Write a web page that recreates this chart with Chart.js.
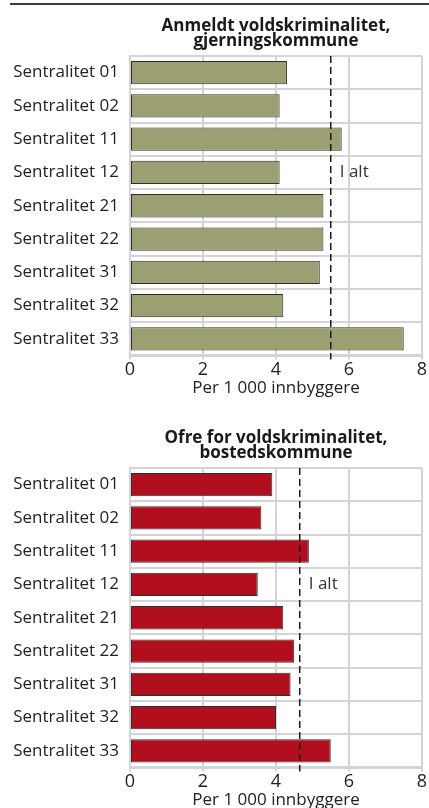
<!DOCTYPE html>
<html>
<head>
<meta charset="utf-8">
<script src="https://cdn.jsdelivr.net/npm/chart.js@4"></script>
<style>
    html, body {
        margin: 0;
        padding: 0;
        background: #ffffff;
        width: 429px;
        height: 808px;
        overflow: hidden;
        position: relative;
    }

    .top_rule {
        position: absolute;
        left: 10px;
        right: 0;
        top: 3px;
        height: 2px;
        background: #3c3c3c;
    }

    .chart_box {
        position: absolute;
        left: 0;
        width: 429px;
        height: 411px;
    }
</style>
</head>
<body>
<div class="top_rule"></div>
<div class="chart_box" style="top: 0;"><canvas id="chart_reported"></canvas></div>
<div class="chart_box" style="top: 412px;"><canvas id="chart_victims"></canvas></div>

<script>
const categories = [
    "Sentralitet 01",
    "Sentralitet 02",
    "Sentralitet 11",
    "Sentralitet 12",
    "Sentralitet 21",
    "Sentralitet 22",
    "Sentralitet 31",
    "Sentralitet 32",
    "Sentralitet 33"
];

const reportedValues = [4.3, 4.1, 5.8, 4.1, 5.3, 5.3, 5.2, 4.2, 7.5];
const victimValues = [3.9, 3.6, 4.9, 3.5, 4.2, 4.5, 4.4, 4.0, 5.5];

const reportedTotal = 5.5;
const victimTotal = 4.65;

const totalLabel = "I alt";
const totalLabelRow = 3;

const axisMin = 0;
const axisMax = 8;
const axisStep = 2;

const FONT = "'Open Sans', 'Noto Sans', sans-serif";
const GRID_COLOR = "#d4d4d4";
const TEXT_COLOR = "#222222";

const totalLinePlugin = {
    id: "totalLine",
    afterDatasetsDraw(chart, args, opts) {
        const ctx = chart.ctx;
        const x = chart.scales.x.getPixelForValue(opts.value);
        const area = chart.chartArea;

        ctx.save();
        ctx.strokeStyle = "#1a1a1a";
        ctx.lineWidth = 1.5;
        ctx.setLineDash([7, 4]);
        ctx.beginPath();
        ctx.moveTo(x, area.top);
        ctx.lineTo(x, area.bottom + 4);
        ctx.stroke();
        ctx.setLineDash([]);

        const y = chart.scales.y.getPixelForValue(totalLabelRow);
        ctx.fillStyle = "#333333";
        ctx.font = "17px " + FONT;
        ctx.textAlign = "left";
        ctx.textBaseline = "middle";
        ctx.fillText(totalLabel, x + 9, y);
        ctx.restore();
    }
};

function createBarChart(canvasId, values, total, titleLines, color) {
    const canvas = document.getElementById(canvasId);

    new Chart(canvas, {
        type: "bar",

        data: {
            labels: categories,
            datasets: [
                {
                    data: values,
                    backgroundColor: color,
                    borderColor: "#2e2e2e",
                    borderWidth: 1,
                    borderSkipped: false,
                    categoryPercentage: 1,
                    barPercentage: 0.7
                }
            ]
        },

        options: {
            indexAxis: "y",
            responsive: true,
            maintainAspectRatio: false,
            animation: false,

            layout: {
                padding: {
                    top: 0,
                    right: 7,
                    left: 0,
                    bottom: 13
                }
            },

            scales: {
                x: {
                    min: axisMin,
                    max: axisMax,

                    ticks: {
                        stepSize: axisStep,
                        color: TEXT_COLOR,
                        padding: 0,
                        font: {
                            family: FONT,
                            size: 18,
                            lineHeight: 1.1
                        }
                    },

                    title: {
                        display: true,
                        text: "Per 1 000 innbyggere",
                        color: TEXT_COLOR,
                        padding: 0,
                        font: {
                            family: FONT,
                            size: 17,
                            lineHeight: 1.1
                        }
                    },

                    grid: {
                        color: GRID_COLOR,
                        lineWidth: 2,
                        tickLength: 4
                    },

                    border: {
                        color: GRID_COLOR,
                        width: 2
                    }
                },

                y: {
                    afterFit: function (scale) {
                        scale.width = 130;
                    },

                    ticks: {
                        color: TEXT_COLOR,
                        padding: 11,
                        font: {
                            family: FONT,
                            size: 17
                        }
                    },

                    grid: {
                        color: GRID_COLOR,
                        lineWidth: 2,
                        drawTicks: false
                    },

                    border: {
                        color: GRID_COLOR,
                        width: 2
                    }
                }
            },

            plugins: {
                legend: {
                    display: false
                },

                tooltip: {
                    enabled: false
                },

                title: {
                    display: true,
                    text: titleLines,
                    fullSize: false,
                    color: "#1a1a1a",
                    padding: {
                        top: 19,
                        bottom: 7
                    },
                    font: {
                        family: FONT,
                        size: 17,
                        weight: "bold",
                        lineHeight: "15px"
                    }
                },

                totalLine: {
                    value: total
                }
            }
        },

        plugins: [totalLinePlugin]
    });
}

createBarChart(
    "chart_reported",
    reportedValues,
    reportedTotal,
    ["Anmeldt voldskriminalitet,", "gjerningskommune"],
    "#9c9f72"
);

createBarChart(
    "chart_victims",
    victimValues,
    victimTotal,
    ["Ofre for voldskriminalitet,", "bostedskommune"],
    "#b20f1e"
);
</script>
</body>
</html>
